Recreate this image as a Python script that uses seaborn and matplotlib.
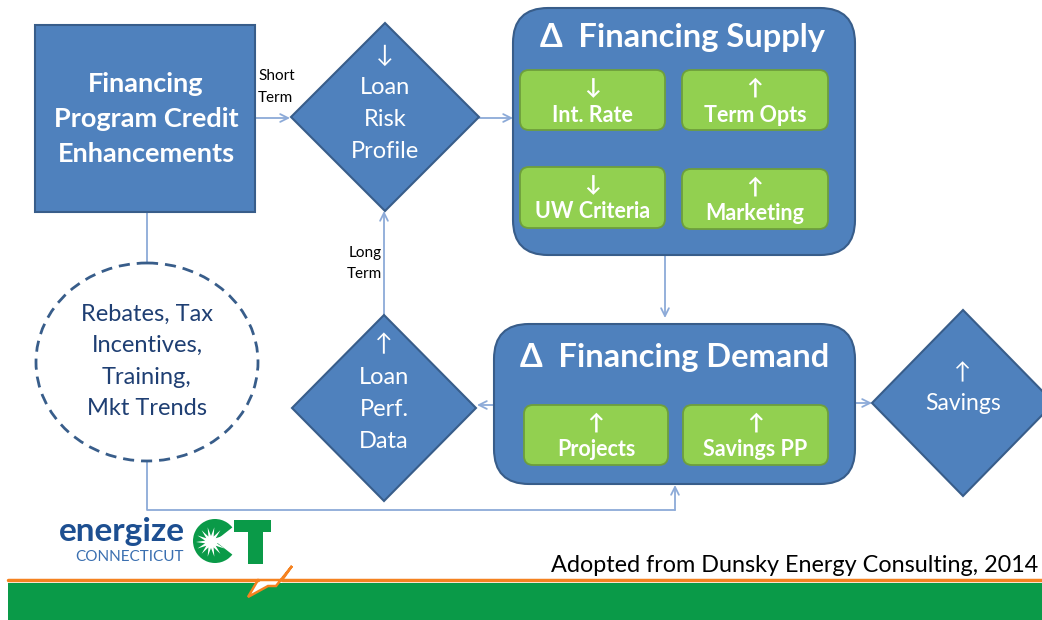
import numpy as np
import seaborn as sns
import matplotlib.pyplot as plt
from matplotlib.patches import Rectangle, Polygon, FancyBboxPatch, Ellipse, Wedge

sns.set_theme(style="white")
plt.rcParams['font.family'] = ['Lato', 'DejaVu Sans']

# colours
BLUE = "#4F81BD"
BLUE_EDGE = "#385D8A"
GREEN = "#92D050"
GREEN_EDGE = "#6E9F3C"
LINE = "#8CAAD8"
DARK_TEXT = "#1F3F73"

# diagram content
main_box_lines = ["Financing", "Program Credit", "Enhancements"]
risk_lines = ["\u2193", "Loan", "Risk", "Profile"]
perf_lines = ["\u2191", "Loan", "Perf.", "Data"]
savings_lines = ["\u2191", "Savings"]
driver_lines = ["Rebates, Tax", "Incentives,", "Training,", "Mkt Trends"]
supply_title = "\u0394  Financing Supply"
demand_title = "\u0394  Financing Demand"
supply_items = [("\u2193", "Int. Rate"), ("\u2191", "Term Opts"),
                ("\u2193", "UW Criteria"), ("\u2191", "Marketing")]
demand_items = [("\u2191", "Projects"), ("\u2191", "Savings PP")]
short_label = ["Short", "Term"]
long_label = ["Long", "Term"]
credit = "Adopted from Dunsky Energy Consulting, 2014"

fig = plt.figure(figsize=(10.42, 6.2), dpi=100)
ax = fig.add_axes([0, 0, 1, 1])
ax.set_xlim(0, 1042)
ax.set_ylim(620, 0)
ax.axis("off")


def diamond(cx, cy, hw, hh):
    ax.add_patch(Polygon([(cx - hw, cy), (cx, cy - hh), (cx + hw, cy), (cx, cy + hh)],
                         closed=True, fc=BLUE, ec=BLUE_EDGE, lw=1.5, zorder=2))


def rbox(x0, y0, x1, y1, r, fc, ec, lw=1.5):
    ax.add_patch(FancyBboxPatch((x0, y0), x1 - x0, y1 - y0,
                                boxstyle=f"round,pad=0,rounding_size={r}",
                                fc=fc, ec=ec, lw=lw, zorder=2))


def arrow(p0, p1):
    ax.annotate("", xy=p1, xytext=p0,
                arrowprops=dict(arrowstyle="->", color=LINE, lw=1.3,
                                shrinkA=0, shrinkB=0, mutation_scale=14), zorder=1)


# main square
ax.add_patch(Rectangle((35, 25), 220, 187, fc=BLUE, ec=BLUE_EDGE, lw=1.5, zorder=2))
for i, t in enumerate(main_box_lines):
    ax.text(146, 84 + i * 35, t, color="white", fontsize=19.5, fontweight="bold",
            ha="center", va="center", zorder=3)

# loan risk profile diamond
diamond(385, 117, 94, 94)
for i, t in enumerate(risk_lines):
    ax.text(385, 55 + i * 32, t, color="white", fontsize=17, ha="center", va="center", zorder=3)

# loan performance data diamond
diamond(384, 408, 92, 93)
for i, t in enumerate(perf_lines):
    ax.text(384, 345 + i * 32, t, color="white", fontsize=17, ha="center", va="center", zorder=3)

# savings diamond
diamond(963, 403, 91, 93)
for i, t in enumerate(savings_lines):
    ax.text(963, 373 + i * 31, t, color="white", fontsize=16.5, ha="center", va="center", zorder=3)

# supply box
rbox(513, 8, 855, 255, 35, BLUE, BLUE_EDGE)
ax.text(683, 38, supply_title, color="white", fontsize=23.5, fontweight="bold",
        ha="center", va="center", zorder=3)
supply_pos = [(520, 70, 665, 130), (682, 70, 828, 130), (520, 167, 665, 228), (682, 169, 828, 229)]
for (a, lab), (x0, y0, x1, y1) in zip(supply_items, supply_pos):
    rbox(x0, y0, x1, y1, 9, GREEN, GREEN_EDGE, lw=1.3)
    cx = (x0 + x1) / 2
    ax.text(cx, y0 + 18, a, color="white", fontsize=16, fontweight="bold",
            ha="center", va="center", zorder=3)
    ax.text(cx, y0 + 45, lab, color="white", fontsize=15.5, fontweight="bold",
            ha="center", va="center", zorder=3)

# demand box
rbox(494, 324, 855, 484, 35, BLUE, BLUE_EDGE)
ax.text(675, 358, demand_title, color="white", fontsize=23.5, fontweight="bold",
        ha="center", va="center", zorder=3)
demand_pos = [(524, 405, 668, 465), (683, 405, 828, 465)]
for (a, lab), (x0, y0, x1, y1) in zip(demand_items, demand_pos):
    rbox(x0, y0, x1, y1, 9, GREEN, GREEN_EDGE, lw=1.3)
    cx = (x0 + x1) / 2
    ax.text(cx, y0 + 18, a, color="white", fontsize=16, fontweight="bold",
            ha="center", va="center", zorder=3)
    ax.text(cx, y0 + 45, lab, color="white", fontsize=15.5, fontweight="bold",
            ha="center", va="center", zorder=3)

# dashed ellipse of drivers
ax.add_patch(Ellipse((147, 362), 222, 198, fc="white", ec=BLUE_EDGE, lw=2,
                     ls=(0, (4, 2.5)), zorder=2))
for i, t in enumerate(driver_lines):
    ax.text(147, 314 + i * 31.5, t, color=DARK_TEXT, fontsize=17, ha="center",
            va="center", zorder=3)

# connectors
arrow((255, 118), (290, 118))
arrow((479, 118), (513, 118))
arrow((665, 255), (665, 318))
arrow((494, 405), (477, 405))
arrow((384, 315), (384, 211))
arrow((855, 403), (872, 403))
ax.plot([147, 147], [212, 263], color=LINE, lw=1.3, zorder=1)
ax.plot([147, 147, 675], [461, 510, 510], color=LINE, lw=1.3, zorder=1)
arrow((675, 510), (675, 485))

for i, t in enumerate(short_label):
    ax.text(258, 76 + i * 22, t, color="black", fontsize=11, ha="left", va="center")
for i, t in enumerate(long_label):
    ax.text(382, 253 + i * 21, t, color="black", fontsize=11, ha="right", va="center")

# logo
ax.text(122, 532, "energize", color="#1D4F91", fontsize=24, fontweight="bold",
        ha="center", va="center")
ax.text(130, 557, "CONNECTICUT", color="#3A6FB0", fontsize=11, ha="center", va="center")
ax.add_patch(Wedge((215, 541), 22, 38, 322, fc="#0A9A48", ec="none", zorder=3))
ang = np.linspace(0, 2 * np.pi, 29)[:-1]
rad = np.where(np.arange(28) % 2 == 0, 15, 6)
ax.add_patch(Polygon(np.c_[211 + rad * np.cos(ang), 542 + rad * np.sin(ang)],
                     fc="white", ec="none", zorder=4))
ax.add_patch(Rectangle((234, 520), 37, 12, fc="#0A9A48", ec="none", zorder=3))
ax.add_patch(Rectangle((248, 520), 15, 44, fc="#0A9A48", ec="none", zorder=3))

# bottom band with lightning bolt
ax.add_patch(Rectangle((8, 583), 1034, 40, fc="#0A9A48", ec="none", zorder=1))
ax.add_patch(Polygon([(258, 580), (248, 597), (268, 586), (276, 586), (292, 566), (282, 580)],
                     fc="white", ec="#F58220", lw=1.8, zorder=2))
ax.plot([8, 258], [580, 580], color="#F58220", lw=2.5, zorder=3)
ax.plot([282, 1042], [580, 580], color="#F58220", lw=2.5, zorder=3)

ax.text(1038, 566, credit, color="black", fontsize=16.8, ha="right", va="center")

fig.savefig("out.png", dpi=100)
